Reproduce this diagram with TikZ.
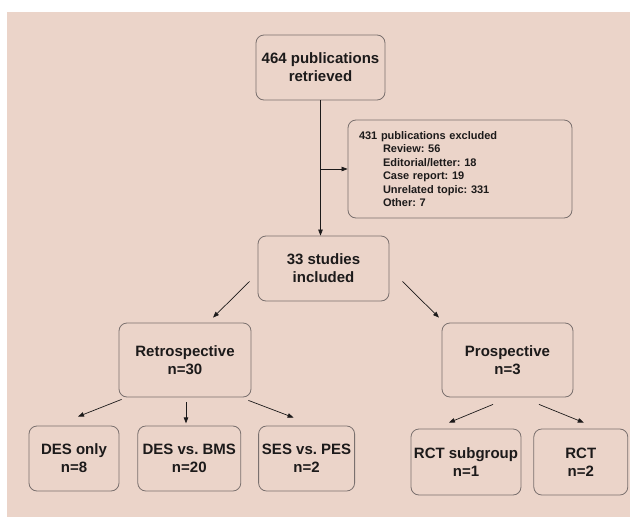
\documentclass[tikz,border=0pt]{standalone}
\usepackage{fontspec}
\setmainfont{Liberation Sans}
\usetikzlibrary{arrows.meta,positioning,calc}
\frenchspacing
\definecolor{paper}{RGB}{235,212,201}
\definecolor{edge}{RGB}{122,112,110}
\definecolor{ink}{RGB}{28,26,26}
\tikzset{
  box/.style={draw=edge,rounded corners=8pt,line width=0.8pt,align=center,text=ink,font=\fontsize{15}{18}\selectfont\bfseries,inner sep=2pt},
  note/.style={box,align=left,font=\fontsize{11}{13.5}\selectfont\bfseries,inner xsep=11pt,text width=202pt},
  arr/.style={-{Triangle[length=6pt,width=4.5pt]},draw=ink,line width=0.7pt},
}

\begin{document}
\begin{tikzpicture}[x=1pt,y=-1pt]
  \useasboundingbox (0,0) rectangle (630,517);
  \fill[white] (0,0) rectangle (630,517);
  \fill[paper] (7,12) rectangle (630,517);
  % screening
  \node[box,minimum width=129pt,minimum height=65pt] (pub) at (320.5,67.5) {464 publications\\retrieved};
  \node[note,minimum height=98pt] (excl) at (460,169) {431 publications excluded\\
    \hspace*{24pt}Review: 56\\
    \hspace*{24pt}Editorial/letter: 18\\
    \hspace*{24pt}Case report: 19\\
    \hspace*{24pt}Unrelated topic: 331\\
    \hspace*{24pt}Other: 7};
  \node[box,minimum width=131pt,minimum height=65pt] (inc) at (323.5,268.5) {33 studies\\included};
  % study design
  \node[box,minimum width=132pt,minimum height=74pt] (retro) at (185,360) {Retrospective\\n=30};
  \node[box,minimum width=131pt,minimum height=74pt] (pros) at (507.5,360) {Prospective\\n=3};
  \node[box,minimum width=90pt,minimum height=65pt] (desonly) at (74,458.5) {DES only\\n=8};
  \node[box,minimum width=103pt,minimum height=65pt,right=18pt of desonly] (desbms) {DES vs. BMS\\n=20};
  \node[box,minimum width=96pt,minimum height=65pt,right=17pt of desbms] (sespes) {SES vs. PES\\n=2};
  \node[box,minimum width=110pt,minimum height=66pt] (rctsub) at (466,462) {RCT subgroup\\n=1};
  \node[box,minimum width=94pt,minimum height=66pt,right=12pt of rctsub] (rct) {RCT\\n=2};
  % connectors
  \coordinate (split) at (pub.south |- excl.west);
  \draw[arr] (pub.south) -- (pub.south |- inc.north);
  \draw[arr] (split) -- (excl.west);
  \draw[arr] ($(inc.south west)+(-8,-20)$) -- ($(retro.north)+(28,-5)$);
  \draw[arr] ($(inc.south east)+(13,-20)$) -- ($(pros.north)+(-68.5,-5)$);
  \draw[arr] ($(retro.south west)+(3,2)$) -- ($(desonly.north)+(4,-9)$);
  \draw[arr] ($(retro.south)+(1,5)$) -- ($(retro.south)+(1,26)$);
  \draw[arr] ($(retro.south east)+(-3,3)$) -- ($(sespes.north)+(-13,-8)$);
  \draw[arr] ($(pros.south)+(-14.5,7)$) -- ($(rctsub.north)+(-17,-6)$);
  \draw[arr] ($(pros.south)+(31.5,7)$) -- ($(rct.north)+(3,-6)$);
\end{tikzpicture}
\end{document}
